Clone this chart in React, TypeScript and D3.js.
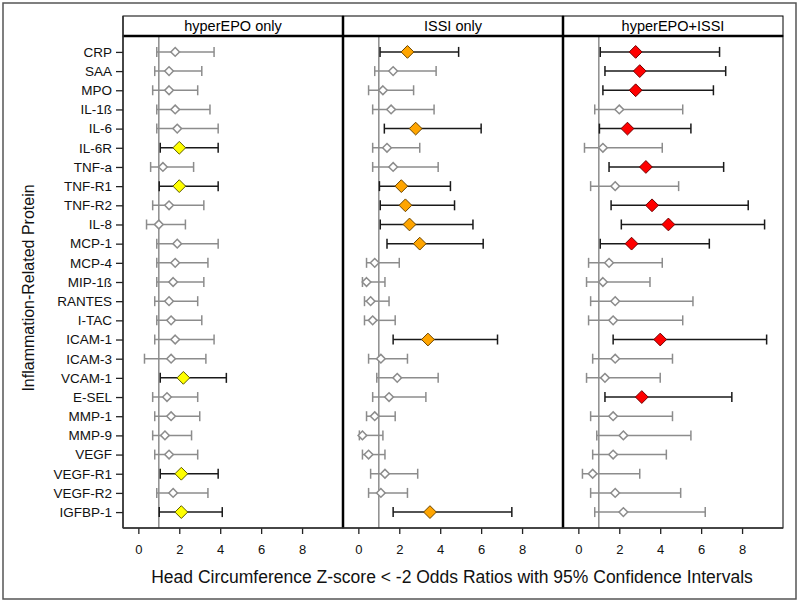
import React, { useRef, useEffect } from 'react';
import * as d3 from 'd3';

const proteins = ['CRP', 'SAA', 'MPO', 'IL-1ß', 'IL-6', 'IL-6R', 'TNF-a', 'TNF-R1', 'TNF-R2', 'IL-8',
  'MCP-1', 'MCP-4', 'MIP-1ß', 'RANTES', 'I-TAC', 'ICAM-1', 'ICAM-3', 'VCAM-1', 'E-SEL', 'MMP-1',
  'MMP-9', 'VEGF', 'VEGF-R1', 'VEGF-R2', 'IGFBP-1'];

const panelNames = ['hyperEPO only', 'ISSI only', 'hyperEPO+ISSI'];
const panelColors = ['#ffff00', '#ffa500', '#ff0000'];
const panelStrokes = ['#5c5a00', '#6b4500', '#700000'];

// hyperEPO only
const epoEst = [1.8, 1.5, 1.5, 1.8, 1.9, 2.0, 1.2, 2.0, 1.5, 1.0, 1.9, 1.8, 1.7, 1.5, 1.6, 1.8, 1.6, 2.2, 1.4, 1.6, 1.3, 1.5, 2.1, 1.7, 2.1];
const epoLo = [0.9, 0.8, 0.7, 0.9, 0.9, 1.07, 0.6, 1.02, 0.7, 0.4, 0.9, 0.9, 0.9, 0.8, 0.9, 0.8, 0.3, 1.07, 0.7, 0.8, 0.7, 0.8, 1.07, 0.9, 1.02];
const epoHi = [3.7, 3.1, 2.9, 3.5, 3.9, 3.9, 2.7, 3.9, 3.2, 2.3, 3.9, 3.4, 3.2, 2.9, 3.1, 3.7, 3.3, 4.3, 2.9, 3.0, 2.6, 2.9, 3.9, 3.4, 4.1];

// ISSI only
const issiEst = [2.4, 1.7, 1.2, 1.6, 2.8, 1.4, 1.7, 2.1, 2.3, 2.5, 3.0, 0.8, 0.4, 0.6, 0.7, 3.4, 1.1, 1.9, 1.5, 0.8, 0.2, 0.5, 1.3, 1.1, 3.5];
const issiLo = [1.06, 0.8, 0.5, 0.7, 1.27, 0.7, 0.7, 1.03, 1.07, 1.07, 1.4, 0.4, 0.2, 0.3, 0.3, 1.7, 0.5, 0.9, 0.7, 0.4, 0.05, 0.2, 0.6, 0.5, 1.7];
const issiHi = [4.9, 3.8, 2.7, 3.7, 6.0, 3.0, 3.9, 4.5, 4.7, 5.6, 6.1, 2.0, 1.3, 1.5, 1.8, 6.8, 2.4, 3.9, 3.3, 1.8, 1.2, 1.3, 2.9, 2.4, 7.5];

// hyperEPO+ISSI
const bothEst = [2.8, 3.0, 2.8, 2.0, 2.4, 1.2, 3.3, 1.8, 3.6, 4.4, 2.6, 1.5, 1.2, 1.8, 1.7, 4.0, 1.8, 1.3, 3.1, 1.7, 2.2, 1.7, 0.7, 1.8, 2.2];
const bothLo = [1.07, 1.3, 1.2, 0.8, 1.03, 0.3, 1.5, 0.6, 1.6, 2.1, 1.07, 0.5, 0.4, 0.6, 0.5, 1.7, 0.7, 0.4, 1.3, 0.6, 0.9, 0.7, 0.2, 0.6, 0.8];
const bothHi = [6.9, 7.2, 6.6, 5.1, 5.5, 4.1, 7.1, 4.9, 8.3, 9.1, 6.4, 4.1, 3.5, 5.6, 5.1, 9.2, 4.6, 4.0, 7.5, 4.6, 5.5, 4.3, 3.0, 5.0, 6.2];

const xTicks = [0, 2, 4, 6, 8];

const FONT = 'Arial, "Liberation Sans", sans-serif';

const ForestPanels = ({ width = 800, height = 602 }) => {
  const svgRef = useRef(null);

  useEffect(() => {
    const svg = d3.select(svgRef.current);
    svg.selectAll('*').remove();

    const top = 36, bottom = 528, left = 123, panelW = 220, stripH = 20;
    const series = [
      { est: epoEst, lo: epoLo, hi: epoHi },
      { est: issiEst, lo: issiLo, hi: issiHi },
      { est: bothEst, lo: bothLo, hi: bothHi },
    ];

    // outer frame
    svg.append('rect')
      .attr('x', 3).attr('y', 3).attr('width', 793).attr('height', 596)
      .attr('fill', 'white').attr('stroke', '#555').attr('stroke-width', 1.5);

    const yScale = d3.scalePoint().domain(proteins).range([top, bottom]).padding(0.83);

    const gray = '#8c8c8c';
    const diamond = d3.symbolDiamond2 || d3.symbolSquare;

    series.forEach((s, p) => {
      const x0 = left + p * panelW;
      const xScale = d3.scaleLinear().domain([-0.75, 10]).range([x0, x0 + panelW]);
      const g = svg.append('g');
      const rows = proteins.map((name, i) => ({ name, est: s.est[i], lo: s.lo[i], hi: s.hi[i], sig: s.lo[i] > 1 }));

      // strip header
      g.append('rect')
        .attr('x', x0).attr('y', top - stripH).attr('width', panelW).attr('height', stripH)
        .attr('fill', 'white').attr('stroke', '#000').attr('stroke-width', 1);
      g.append('text')
        .attr('x', x0 + panelW / 2).attr('y', top - 5)
        .attr('text-anchor', 'middle')
        .attr('font-family', FONT).attr('font-size', '14.5px')
        .text(panelNames[p]);

      // reference line at OR = 1
      g.append('line')
        .attr('x1', xScale(1)).attr('x2', xScale(1))
        .attr('y1', top).attr('y2', bottom)
        .attr('stroke', gray).attr('stroke-width', 1.5);

      // whiskers
      const whisk = g.selectAll('.ci')
        .data(rows)
        .enter()
        .append('g')
        .attr('stroke', d => d.sig ? '#1a1a1a' : gray)
        .attr('stroke-width', 1.5);
      whisk.append('line')
        .attr('x1', d => xScale(d.lo)).attr('x2', d => xScale(d.hi))
        .attr('y1', d => yScale(d.name)).attr('y2', d => yScale(d.name));
      whisk.append('line')
        .attr('x1', d => xScale(d.lo)).attr('x2', d => xScale(d.lo))
        .attr('y1', d => yScale(d.name) - 5).attr('y2', d => yScale(d.name) + 5);
      whisk.append('line')
        .attr('x1', d => xScale(d.hi)).attr('x2', d => xScale(d.hi))
        .attr('y1', d => yScale(d.name) - 5).attr('y2', d => yScale(d.name) + 5);

      // point estimates
      g.selectAll('.pt')
        .data(rows)
        .enter()
        .append('path')
        .attr('d', d => d3.symbol().type(diamond).size(d.sig ? 104 : 48)())
        .attr('transform', d => `translate(${xScale(d.est)},${yScale(d.name)})`)
        .attr('fill', d => d.sig ? panelColors[p] : 'white')
        .attr('stroke', d => d.sig ? panelStrokes[p] : gray)
        .attr('stroke-width', d => d.sig ? 1 : 1.5);

      // panel frame
      g.append('rect')
        .attr('x', x0).attr('y', top).attr('width', panelW).attr('height', bottom - top)
        .attr('fill', 'none').attr('stroke', '#000').attr('stroke-width', 1);

      // x axis
      const ax = g.append('g')
        .attr('transform', `translate(0,${bottom})`)
        .call(d3.axisBottom(xScale).tickValues(xTicks).tickSize(6).tickPadding(11));
      ax.select('.domain').remove();
      ax.selectAll('line').attr('stroke', '#222').attr('stroke-width', 1.3);
      ax.selectAll('text').attr('font-family', FONT).attr('font-size', '13px').attr('fill', '#111');
    });

    // thick dividers and strip bottom
    [left + panelW, left + 2 * panelW].forEach(xv => {
      svg.append('line')
        .attr('x1', xv).attr('x2', xv).attr('y1', top - stripH).attr('y2', bottom)
        .attr('stroke', '#000').attr('stroke-width', 2.5);
    });
    svg.append('line')
      .attr('x1', left).attr('x2', left + 3 * panelW).attr('y1', top).attr('y2', top)
      .attr('stroke', '#000').attr('stroke-width', 2.5);
    svg.append('line')
      .attr('x1', left).attr('x2', left).attr('y1', top - stripH).attr('y2', bottom)
      .attr('stroke', '#333').attr('stroke-width', 1.5);
    svg.append('line')
      .attr('x1', left).attr('x2', left + 3 * panelW).attr('y1', bottom).attr('y2', bottom)
      .attr('stroke', '#333').attr('stroke-width', 1.5);

    // y axis
    const ay = svg.append('g')
      .attr('transform', `translate(${left},0)`)
      .call(d3.axisLeft(yScale).tickSize(7).tickPadding(4));
    ay.select('.domain').remove();
    ay.selectAll('line').attr('stroke', '#222').attr('stroke-width', 1.3);
    ay.selectAll('text').attr('font-family', FONT).attr('font-size', '13.5px').attr('fill', '#111');

    // axis titles
    svg.append('text')
      .attr('x', 452).attr('y', 583)
      .attr('text-anchor', 'middle')
      .attr('font-family', FONT).attr('font-size', '17.5px').attr('fill', '#111')
      .text('Head Circumference Z-score < -2 Odds Ratios with 95% Confidence Intervals');

    svg.append('text')
      .attr('transform', 'translate(34,288) rotate(-90)')
      .attr('text-anchor', 'middle')
      .attr('font-family', FONT).attr('font-size', '16px').attr('fill', '#111')
      .text('Inflammation-Related Protein');
  }, [width, height]);

  return (
    <svg ref={svgRef} width={width} height={height}
      style={{ position: 'absolute', left: 0, top: 0, background: 'white' }}></svg>
  );
};

export default function App() {
  return <ForestPanels />;
}
